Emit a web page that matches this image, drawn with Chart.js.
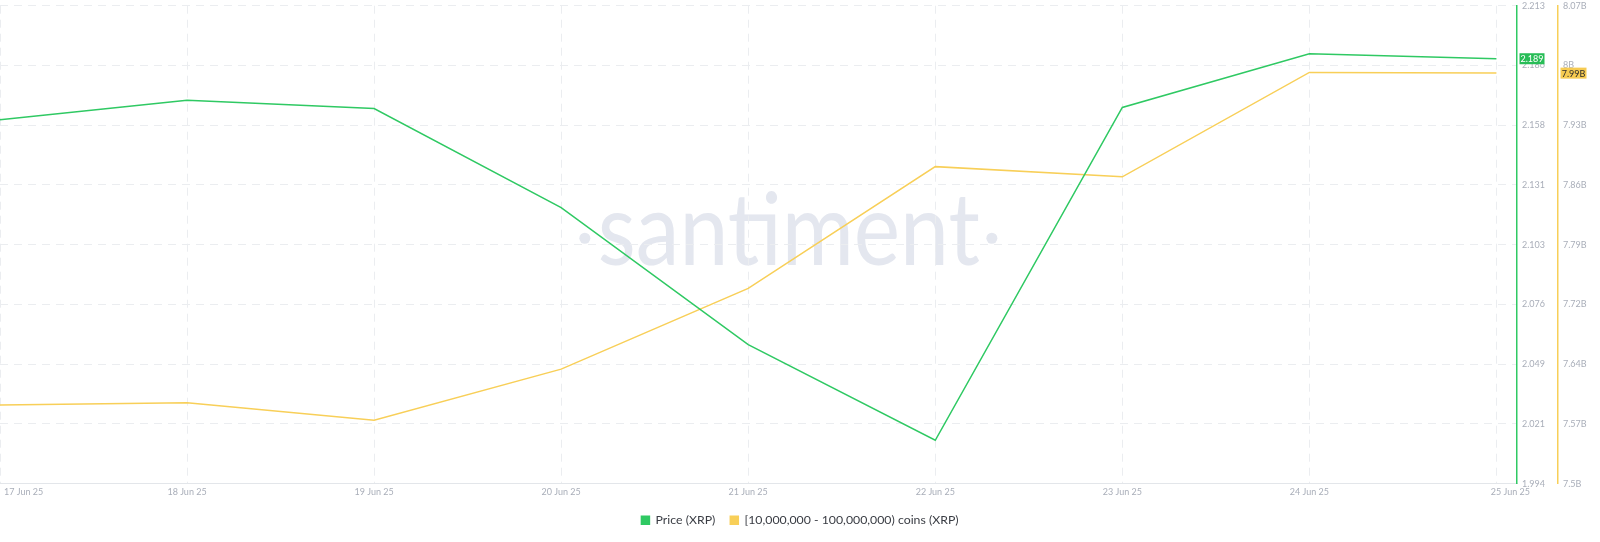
<!DOCTYPE html>
<html>
<head>
<meta charset="utf-8">
<script src="https://cdn.jsdelivr.net/npm/chart.js@4"></script>
<style>
  html, body { margin: 0; padding: 0; background: #fff; }
  #wrap { width: 1600px; height: 542px; }
</style>
</head>
<body>
<div id="wrap"><canvas id="myChart"></canvas></div>
<script>
// dates on the x axis
const dates = [
  "17 Jun 25",
  "18 Jun 25",
  "19 Jun 25",
  "20 Jun 25",
  "21 Jun 25",
  "22 Jun 25",
  "23 Jun 25",
  "24 Jun 25",
  "25 Jun 25",
];

// Price (XRP)
const priceXRP = [2.1608, 2.1697, 2.1659, 2.1205, 2.0577, 2.0139, 2.1664, 2.191, 2.1887];

// coins held by wallets with 10M - 100M XRP (in billions)
const whaleHoldings = [7.5939, 7.5964, 7.5756, 7.6366, 7.7329, 7.8781, 7.8659, 7.9904, 7.9896];

// axis tick labels
const priceTicks = ["1.994", "2.021", "2.049", "2.076", "2.103", "2.131", "2.158", "2.186", "2.213"];
const holdingTicks = ["7.5B", "7.57B", "7.64B", "7.72B", "7.79B", "7.86B", "7.93B", "8B", "8.07B"];
const priceRange = [1.994, 2.213];
const holdingRange = [7.5, 8.07];

const GREEN = "#2fc963";
const YELLOW = "#f8cf58";
const TICK_COLOR = "#a9aeb9";
const GRID_COLOR = "#ebedf0";
const FONT = "Lato, 'Open Sans', sans-serif";

// spread tick values evenly between min and max, labels come from the arrays
function evenTicks(range, labels) {
  return function (scale) {
    const step = (range[1] - range[0]) / (labels.length - 1);
    scale.ticks = labels.map((l, i) => ({ value: range[0] + i * step }));
  };
}

// santiment watermark behind everything
const watermark = {
  id: "watermark",
  beforeDraw(chart) {
    const { ctx, chartArea: ca } = chart;
    const cx = ca.left + ca.width * 0.52;
    const base = ca.top + ca.height * 0.543;
    ctx.save();
    ctx.fillStyle = "#e4e7ef";
    ctx.font = "400 100px " + FONT;
    ctx.textAlign = "center";
    ctx.textBaseline = "alphabetic";
    const w = ctx.measureText("santiment").width;
    const target = 382;
    ctx.translate(cx, base);
    ctx.scale(target / w, 1);
    ctx.fillText("santiment", 0, 0);
    ctx.restore();
    ctx.save();
    ctx.fillStyle = "#e4e7ef";
    [cx - 204, cx + 203].forEach((x) => {
      ctx.beginPath();
      ctx.arc(x, base - 27, 5.5, 0, Math.PI * 2);
      ctx.fill();
    });
    ctx.restore();
  },
};

// date labels under the x axis
const dateLabels = {
  id: "dateLabels",
  afterDraw(chart) {
    const { ctx, chartArea: ca } = chart;
    const x = chart.scales.x;
    ctx.save();
    ctx.font = "9px " + FONT;
    ctx.fillStyle = TICK_COLOR;
    ctx.textBaseline = "middle";
    dates.forEach((d, i) => {
      let px = x.getPixelForValue(i);
      ctx.textAlign = "center";
      if (i === 0) {
        ctx.textAlign = "left";
        px += 4;
      } else if (i === dates.length - 1) {
        px += 14;
      }
      ctx.fillText(d, px, ca.bottom + 8);
    });
    ctx.restore();
  },
};

// value badges for the last point on each right axis
const lastValue = {
  id: "lastValue",
  afterDraw(chart) {
    const { ctx } = chart;
    const y = chart.scales.y;
    const y1 = chart.scales.y1;
    const badges = [
      { scale: y, value: priceXRP[priceXRP.length - 1], text: priceXRP[priceXRP.length - 1].toFixed(3), bg: "#28bd57", fg: "#ffffff", w: 25 },
      { scale: y1, value: whaleHoldings[whaleHoldings.length - 1], text: whaleHoldings[whaleHoldings.length - 1].toFixed(2) + "B", bg: "#f6cb52", fg: "#2b2b2b", w: 26 },
    ];
    ctx.save();
    ctx.font = "9px " + FONT;
    ctx.textAlign = "center";
    ctx.textBaseline = "middle";
    badges.forEach((b) => {
      const py = b.scale.getPixelForValue(b.value);
      const left = b.scale.left + 2.5;
      ctx.fillStyle = b.bg;
      ctx.fillRect(left, py - 5.5, b.w, 11);
      ctx.fillStyle = b.fg;
      ctx.fillText(b.text, left + b.w / 2, py + 0.5);
    });
    ctx.restore();
  },
};

const ctx = document.getElementById("myChart").getContext("2d");

new Chart(ctx, {
  type: "line",
  data: {
    datasets: [
      {
        label: "Price (XRP)",
        data: priceXRP.map((v, i) => ({ x: i, y: v })),
        borderColor: GREEN,
        backgroundColor: GREEN,
        borderWidth: 1.5,
        pointRadius: 0,
        tension: 0,
        yAxisID: "y",
      },
      {
        label: "[10,000,000 - 100,000,000) coins (XRP)",
        data: whaleHoldings.map((v, i) => ({ x: i, y: v })),
        borderColor: YELLOW,
        backgroundColor: YELLOW,
        borderWidth: 1.5,
        pointRadius: 0,
        tension: 0,
        yAxisID: "y1",
      },
    ],
  },
  options: {
    responsive: true,
    maintainAspectRatio: false,
    animation: false,
    devicePixelRatio: 1,
    layout: { padding: { left: 0, right: 0, top: 0, bottom: 5.5 } },
    plugins: {
      tooltip: { enabled: false },
      legend: {
        position: "bottom",
        labels: {
          boxWidth: 8,
          boxHeight: 8,
          padding: 15,
          color: "#3a3d44",
          font: { family: FONT, size: 12.3 },
        },
      },
    },
    scales: {
      x: {
        type: "linear",
        min: 0,
        max: 8.11,
        afterBuildTicks: (scale) => {
          scale.ticks = dates.map((d, i) => ({ value: i }));
        },
        afterFit: (scale) => {
          scale.height = 15.5;
          scale.paddingLeft = 0;
          scale.paddingRight = 0;
        },
        ticks: { display: false },
        grid: {
          color: GRID_COLOR,
          drawTicks: false,
        },
        border: { display: true, color: "#e3e6ea", dash: [8, 6] },
      },
      y: {
        position: "right",
        min: priceRange[0],
        max: priceRange[1],
        afterBuildTicks: evenTicks(priceRange, priceTicks),
        afterFit: (scale) => {
          scale.width = 41;
          scale.paddingTop = 5.7;
          scale.paddingBottom = 0;
        },
        ticks: {
          padding: 5,
          color: TICK_COLOR,
          font: { family: FONT, size: 9 },
          callback: (v, i) => priceTicks[i],
        },
        grid: { color: GRID_COLOR, drawTicks: false },
        border: { display: true, color: GREEN, width: 1.5, dash: [8, 6] },
      },
      y1: {
        position: "right",
        min: holdingRange[0],
        max: holdingRange[1],
        afterBuildTicks: evenTicks(holdingRange, holdingTicks),
        afterFit: (scale) => {
          scale.width = 42;
          scale.paddingTop = 5.7;
          scale.paddingBottom = 0;
        },
        ticks: {
          padding: 5,
          color: TICK_COLOR,
          font: { family: FONT, size: 9 },
          callback: (v, i) => holdingTicks[i],
        },
        grid: { display: false, drawTicks: false },
        border: { display: true, color: YELLOW, width: 1.5 },
      },
    },
  },
  plugins: [watermark, dateLabels, lastValue],
});
</script>
</body>
</html>
